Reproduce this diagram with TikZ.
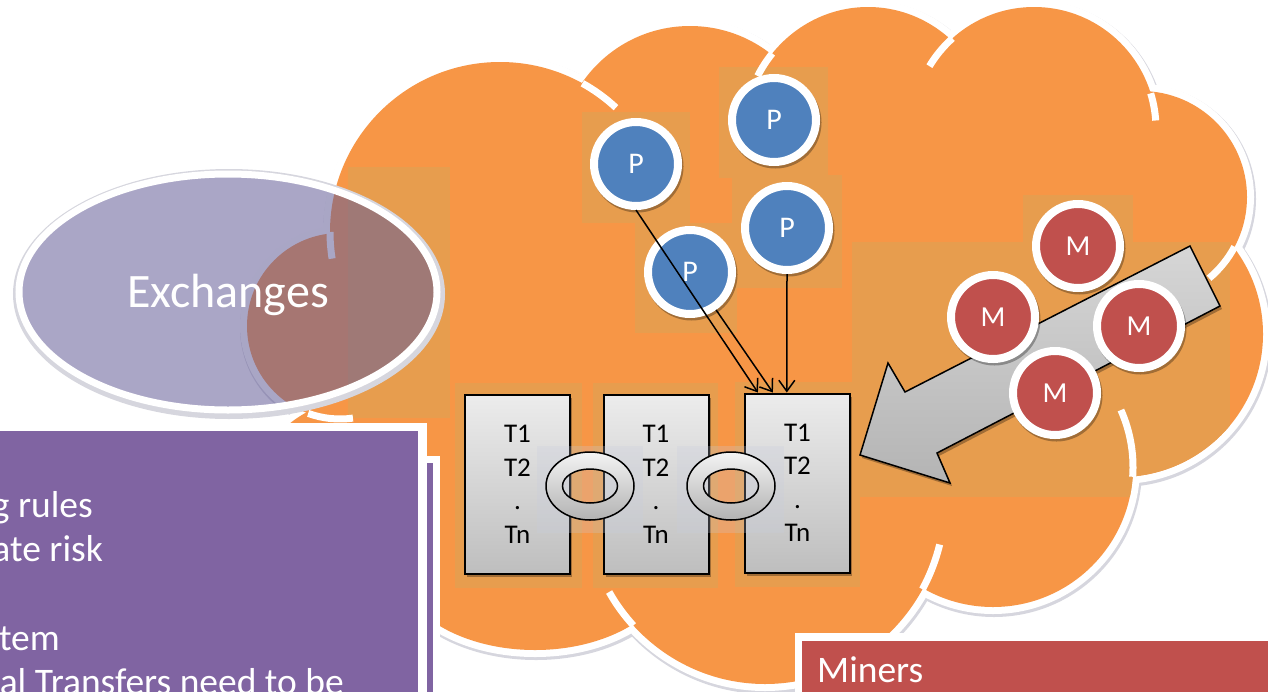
\documentclass[tikz,border=0pt]{standalone}
\usepackage{fontspec}
\setmainfont{Carlito}
\usetikzlibrary{arrows.meta,calc,shapes.geometric}

\definecolor{cloudorange}{RGB}{247,150,70}
\definecolor{cloudpatch}{RGB}{231,157,78}
\definecolor{rimgray}{RGB}{214,214,222}
\definecolor{peerblue}{RGB}{79,129,189}
\definecolor{minerred}{RGB}{192,80,77}
\definecolor{notepurple}{RGB}{128,100,162}
\definecolor{exchangefill}{RGB}{100,93,151}
\definecolor{blocktop}{RGB}{236,236,236}
\definecolor{blockbottom}{RGB}{190,190,190}
\definecolor{ringtop}{RGB}{244,244,244}
\definecolor{ringbottom}{RGB}{178,178,178}
\definecolor{arrowtop}{RGB}{214,214,214}
\definecolor{arrowbottom}{RGB}{180,180,180}
\definecolor{linkhaze}{RGB}{200,205,222}

% lobes of the cloud: centre x / centre y / x radius / y radius
\newcommand\lobelist{500/232/170/170, 690/157/131/131, 868/137/125/130,
  1034/129/122/122, 1141/197/106/106, 1120/334/143/143, 993/467/140/140,
  765/500/180/184, 535/560/140/90, 340/326/93/93, 380/470/115/75, 490/540/80/100}

% short inner arcs where one lobe runs into its neighbour
\newcommand\cloudnotch[6]{%
  \draw[notchline] (#1,#2) ++(#5:#3 and #4)
    arc[start angle=#5, end angle=#6, x radius=#3, y radius=#4];}

% slightly darker tint panels behind the items inside the cloud
\newcommand\cloudpatches{%
  \fill[cloudpatch] (582,112) rectangle (690,223);
  \fill[cloudpatch] (719,67) rectangle (828,178);
  \fill[cloudpatch] (732,175) rectangle (842,288);
  \fill[cloudpatch] (635,223) rectangle (737,333);
  \fill[cloudpatch] (852,242) rectangle (1230,497);
  \fill[cloudpatch] (1023,195) rectangle (1133,242);
  \fill[cloudpatch] (455,383) rectangle (582,588);
  \fill[cloudpatch] (593,383) rectangle (718,588);
  \fill[cloudpatch] (735,382) rectangle (860,587);
  \fill[cloudpatch] (348,167) rectangle (450,418);}

\begin{document}
\begin{tikzpicture}[x=1pt, y=-1pt,
  notchline/.style={white, line width=7},
  peer/.style={circle, minimum size=84, inner sep=0, fill=peerblue, draw=white,
    line width=8, text=white, font=\fontsize{30}{32}\selectfont,
    preaction={fill=black, draw=black, opacity=0.3,
      transform canvas={shift={(1.5pt,-2.5pt)}}}},
  miner/.style={peer, fill=minerred, font=\fontsize{29}{32}\selectfont},
  blockbox/.style={rectangle, minimum width=105, minimum height=179, inner sep=0,
    draw=black, line width=2, top color=blocktop, bottom color=blockbottom,
    text=black, align=center, font=\fontsize{27}{33.5}\selectfont,
    preaction={fill=black, opacity=0.3, transform canvas={shift={(2pt,-3pt)}}}},
  link/.style={draw=black, line width=1.5, even odd rule,
    top color=ringtop, bottom color=ringbottom},
  feed/.style={draw=black, line width=1.5, -{Straight Barb[length=11pt, width=16pt]}},
  bigarrow/.style={draw=black, line width=1.5, top color=arrowtop,
    bottom color=arrowbottom,
    preaction={fill=black, opacity=0.3, transform canvas={shift={(2pt,-3pt)}}}},
  notetext/.style={text=white, inner sep=0, font=\fontsize{37.5}{44.3}\selectfont},
]
\useasboundingbox (0,0) rectangle (1268,691);

% ---------- cloud: soft rim, white outline, orange body ----------
\foreach \cx/\cy/\rx/\ry in \lobelist {
  \draw[rimgray, line width=16] (\cx+1,\cy+2) ellipse [x radius=\rx, y radius=\ry];
}
\foreach \cx/\cy/\rx/\ry in \lobelist {
  \draw[white, line width=14] (\cx,\cy) ellipse [x radius=\rx, y radius=\ry];
}
\foreach \cx/\cy/\rx/\ry in \lobelist {
  \fill[cloudorange] (\cx,\cy) ellipse [x radius=\rx, y radius=\ry];
}
\fill[cloudorange] (500,232) -- (690,157) -- (868,137) -- (1034,129) -- (1141,197)
  -- (1120,334) -- (993,467) -- (765,500) -- (535,560) -- (490,540) -- (380,470)
  -- (340,326) -- cycle;

% tint panels, kept inside the cloud body
\foreach \cx/\cy/\rx/\ry in \lobelist {
  \begin{scope}
    \clip (\cx,\cy) ellipse [x radius=\rx, y radius=\ry];
    \cloudpatches
  \end{scope}
}
\begin{scope}
  \clip (500,232) -- (690,157) -- (868,137) -- (1034,129) -- (1141,197)
    -- (1120,334) -- (993,467) -- (765,500) -- (535,560) -- (490,540) -- (380,470)
    -- (340,326) -- cycle;
  \cloudpatches
\end{scope}

% inner arcs of the cloud outline
\cloudnotch{500}{232}{170}{170}{-61}{-47}
\cloudnotch{868}{137}{125}{130}{220}{208}
\cloudnotch{1034}{129}{122}{122}{228}{211}
\cloudnotch{1034}{129}{122}{122}{-17}{-4}
\cloudnotch{1141}{197}{106}{106}{28}{50}
\cloudnotch{993}{467}{140}{140}{4}{-24}
\cloudnotch{765}{500}{180}{184}{29}{14}
\cloudnotch{765}{500}{180}{184}{137}{150}
\cloudnotch{500}{232}{170}{170}{180}{171}
\cloudnotch{340}{326}{93}{93}{110}{82}

% ---------- exchanges ----------
\draw[rimgray, line width=6] (229,294) ellipse [x radius=213, y radius=122];
\node[ellipse, minimum width=418, minimum height=236, inner sep=0,
  fill=exchangefill, fill opacity=0.55, draw=white, line width=7]
  (exch) at (228,292) {};
\node[text=white, font=\fontsize{48}{52}\selectfont] (exchlabel)
  at ($(exch.center)+(0,3)$) {Exchanges};

% ---------- note panels ----------
\fill[white] (-10,456) rectangle (440,700);
\fill[notepurple] (-10,463) rectangle (433,700);
\fill[white] (-10,423) rectangle (427,700);
\fill[notepurple] (-10,431) rectangle (418,700);
\node[notetext, anchor=base east] (n1) at (93,517) {g rules};
\node[notetext, anchor=base east] (n2) at (103,561) {ate risk};
\node[notetext, anchor=base east] (n3) at (60,650) {tem};
\node[notetext, anchor=base east] (n4) at (344,694) {al Transfers need to be};

\fill[white] (795,633) rectangle (1280,700);
\fill[minerred] (802,641) rectangle (1280,700);
\node[notetext, anchor=base west] (minerslabel) at (817,682) {Miners};

% ---------- chain of blocks ----------
\node[blockbox] (R1) at (517.5,484.5) {T1\\T2\\.\\Tn};
\node[blockbox] (R2) at (656,484.5) {T1\\T2\\.\\Tn};
\node[blockbox] (R3) at (797.5,483) {T1\\T2\\.\\Tn};

\fill[linkhaze, opacity=0.25] (537,446) rectangle (643,533);
\fill[linkhaze, opacity=0.25] (677,446) rectangle (784,533);

\path[link] (590,486) ellipse [x radius=44, y radius=34]
            (590,486) ellipse [x radius=27.5, y radius=17];
\path[link] (731,486) ellipse [x radius=44, y radius=34]
            (731,486) ellipse [x radius=27.5, y radius=17];

% ---------- miners pushing into the chain ----------
\draw[bigarrow] (1190,246) -- (1220,306) -- (937,453) -- (950,483) -- (860,455)
  -- (888,363) -- (905,392) -- cycle;

\node[miner] (M1) at (1078,246) {M};
\node[miner] (M2) at (993,317) {M};
\node[miner] (M3) at (1139,326) {M};
\node[miner] (M4) at (1055,393) {M};

% ---------- peers ----------
\node[peer] (P1) at (636,164) {P};
\node[peer] (P2) at (774,120) {P};
\node[peer] (P3) at (787,228) {P};
\node[peer] (P4) at (690,272) {P};

\coordinate (R3a) at ($(R3.north west)!0.13!(R3.north east)$);
\coordinate (R3b) at ($(R3.north west)!0.27!(R3.north east)$);
\coordinate (R3c) at ($(R3.north west)!0.40!(R3.north east)$);

\draw[feed] (P1.south) -- (R3a);
\draw[feed] (P4) -- (R3b);
\draw[feed] (P3.south) -- (R3c);
\end{tikzpicture}
\end{document}
